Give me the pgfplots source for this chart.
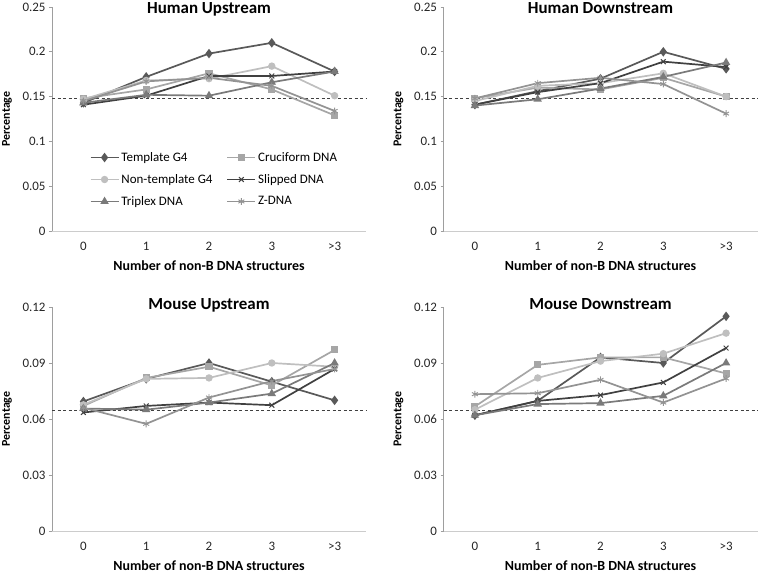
\documentclass[border=0pt]{standalone}
\usepackage{pgfplots}
\pgfplotsset{compat=1.18}
\usepackage{pgfplotstable}
\usepackage{fontspec}
\setmainfont{Carlito}

\definecolor{cTG}{HTML}{595959}
\definecolor{cNT}{HTML}{BFBFBF}
\definecolor{cCR}{HTML}{A6A6A6}
\definecolor{cSL}{HTML}{404040}
\definecolor{cTR}{HTML}{7A7A7A}
\definecolor{cZD}{HTML}{939393}

\pgfplotstableread{
x tg4 ntg4 cru sli tri zdna
0 0.143 0.147 0.148 0.141 0.143 0.145
1 0.172 0.168 0.158 0.151 0.152 0.167
2 0.198 0.170 0.176 0.173 0.151 0.171
3 0.210 0.184 0.158 0.173 0.166 0.162
4 0.178 0.151 0.129 0.178 0.178 0.134
}\hu

\pgfplotstableread{
x tg4 ntg4 cru sli tri zdna
0 0.141 0.145 0.148 0.141 0.140 0.148
1 0.156 0.162 0.160 0.155 0.147 0.165
2 0.170 0.165 0.158 0.165 0.159 0.171
3 0.200 0.176 0.171 0.189 0.172 0.164
4 0.181 0.150 0.150 0.183 0.188 0.131
}\hd

\pgfplotstableread{
x tg4 ntg4 cru sli tri zdna
0 0.0694 0.0676 0.0670 0.0635 0.0656 0.0660
1 0.0815 0.0815 0.0820 0.0670 0.0650 0.0574
2 0.0900 0.0820 0.0880 0.0688 0.0688 0.0715
3 0.0800 0.0900 0.0780 0.0674 0.0736 0.0803
4 0.0700 0.0880 0.0970 0.0868 0.0900 0.0868
}\mu

\pgfplotstableread{
x tg4 ntg4 cru sli tri zdna
0 0.0620 0.0650 0.0667 0.0620 0.0620 0.0733
1 0.0697 0.0820 0.0890 0.0697 0.0680 0.0738
2 0.0930 0.0910 0.0930 0.0728 0.0685 0.0810
3 0.0900 0.0950 0.0930 0.0796 0.0724 0.0688
4 0.1150 0.1060 0.0844 0.0980 0.0900 0.0817
}\md

\pgfplotsset{
  panel/.style={
    scale only axis, width=314bp, height=224bp,
    anchor=south west,
    xmin=-0.5, xmax=4.5, ymin=0,
    axis x line*=bottom, axis y line*=left,
    x axis line style={draw=black!20, line width=0.9bp},
    y axis line style={draw=black!38, line width=0.9bp},
    xtick={0,1,2,3,4}, xticklabels={0,1,2,3,{>3}},
    xtick style={draw=none},
    ytick style={draw=black!38, line width=0.9bp},
    tick align=outside, major tick length=3bp,
    tick label style={font=\fontsize{13}{15}\selectfont, text=black!85},
    xticklabel style={yshift=-5bp},
    /pgf/number format/assume math mode=true,
    yticklabel style={/pgf/number format/fixed, /pgf/number format/precision=2},
    xlabel={Number of non-B DNA structures}, ylabel={Percentage},
    xlabel style={font=\bfseries\fontsize{14}{16}\selectfont, at={(axis description cs:0.5,0)}, anchor=center, yshift=-35bp},
    ylabel style={font=\bfseries\fontsize{12}{14}\selectfont, at={(axis description cs:0,0.5)}, anchor=center, yshift=45bp},
    title style={font=\bfseries\fontsize{17}{19}\selectfont, at={(axis description cs:0.5,1)}, anchor=base},
    clip=false,
    every axis plot/.append style={line width=1.7bp, mark size=2.8bp},
  },
  sTG/.style={color=cTG, mark=diamond*, mark size=3.4bp},
  sNT/.style={color=cNT, mark=*},
  sCR/.style={color=cCR, mark=square*, mark size=2.7bp},
  sSL/.style={color=cSL, mark=x, mark size=3.4bp, mark options={line width=1bp}},
  sTR/.style={color=cTR, mark=triangle*, mark size=3.2bp},
  sZD/.style={color=cZD, mark=asterisk, mark size=3.4bp, mark options={line width=0.9bp}},
  ref/.style={black!75, line width=0.8bp, dash pattern=on 3bp off 2.5bp, mark=none, forget plot},
}

\begin{document}
\begin{tikzpicture}
\useasboundingbox (0bp,0bp) rectangle (760bp,574bp);

% Human Upstream
\begin{axis}[panel, at={(52bp,343bp)}, title={Human Upstream},
  title style={yshift=-12bp},
  ymax=0.25, ytick={0,0.05,0.1,0.15,0.2,0.25},
  legend columns=2,
  legend cell align=left,
  legend style={draw=none, fill=none, at={(axis description cs:0.11,0.37)}, anchor=north west,
    font=\fontsize{13}{15}\selectfont, row sep=7.5bp,
    /tikz/every even column/.append style={column sep=12bp}},
  legend image code/.code={\draw[#1] (0bp,0bp) -- (14bp,0bp) plot coordinates {(14bp,0bp)} -- (28bp,0bp);},
]
\addplot[ref] coordinates {(-0.5,0.1485) (4.5,0.1485)};
\addplot[sTG] table[x=x,y=tg4]{\hu};
\addlegendentry{Template G4}
\addplot[sCR] table[x=x,y=cru]{\hu};
\addlegendentry{Cruciform DNA}
\addplot[sNT] table[x=x,y=ntg4]{\hu};
\addlegendentry{Non-template G4}
\addplot[sSL] table[x=x,y=sli]{\hu};
\addlegendentry{Slipped DNA}
\addplot[sTR] table[x=x,y=tri]{\hu};
\addlegendentry{Triplex DNA}
\addplot[sZD] table[x=x,y=zdna]{\hu};
\addlegendentry{Z-DNA}
\end{axis}

% Human Downstream
\begin{axis}[panel, at={(443.5bp,343bp)}, title={Human Downstream},
  title style={yshift=-12bp},
  ymax=0.25, ytick={0,0.05,0.1,0.15,0.2,0.25}]
\addplot[ref] coordinates {(-0.5,0.1485) (4.5,0.1485)};
\addplot[sTG] table[x=x,y=tg4]{\hd};
\addplot[sCR] table[x=x,y=cru]{\hd};
\addplot[sNT] table[x=x,y=ntg4]{\hd};
\addplot[sSL] table[x=x,y=sli]{\hd};
\addplot[sTR] table[x=x,y=tri]{\hd};
\addplot[sZD] table[x=x,y=zdna]{\hd};
\end{axis}

% Mouse Upstream
\begin{axis}[panel, at={(52bp,43bp)}, title={Mouse Upstream},
  title style={yshift=-8bp},
  ymax=0.12, ytick={0,0.03,0.06,0.09,0.12}]
\addplot[ref] coordinates {(-0.5,0.0648) (4.5,0.0648)};
\addplot[sTG] table[x=x,y=tg4]{\mu};
\addplot[sCR] table[x=x,y=cru]{\mu};
\addplot[sNT] table[x=x,y=ntg4]{\mu};
\addplot[sSL] table[x=x,y=sli]{\mu};
\addplot[sTR] table[x=x,y=tri]{\mu};
\addplot[sZD] table[x=x,y=zdna]{\mu};
\end{axis}

% Mouse Downstream
\begin{axis}[panel, at={(443.5bp,43bp)}, title={Mouse Downstream},
  title style={yshift=-8bp},
  ymax=0.12, ytick={0,0.03,0.06,0.09,0.12}]
\addplot[ref] coordinates {(-0.5,0.0645) (4.5,0.0645)};
\addplot[sTG] table[x=x,y=tg4]{\md};
\addplot[sCR] table[x=x,y=cru]{\md};
\addplot[sNT] table[x=x,y=ntg4]{\md};
\addplot[sSL] table[x=x,y=sli]{\md};
\addplot[sTR] table[x=x,y=tri]{\md};
\addplot[sZD] table[x=x,y=zdna]{\md};
\end{axis}
\end{tikzpicture}
\end{document}
